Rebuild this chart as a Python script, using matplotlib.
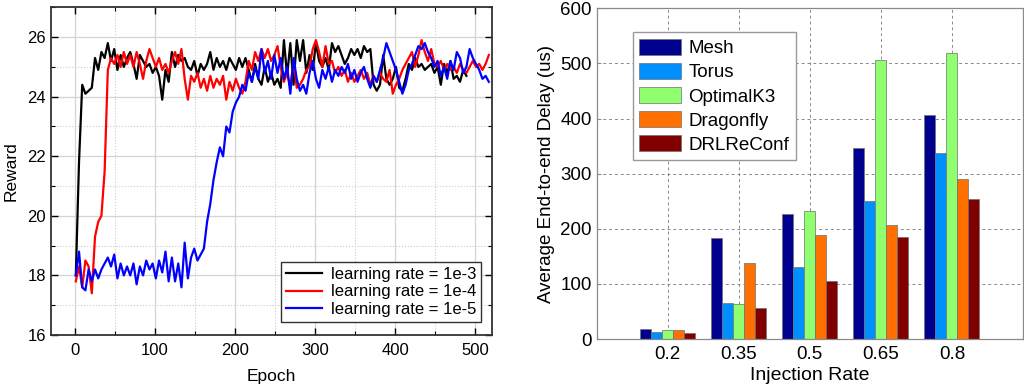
import numpy as np
import matplotlib
matplotlib.use('Agg')
import matplotlib.pyplot as plt
from matplotlib.ticker import MultipleLocator

plt.rcParams['font.family'] = ['Liberation Sans', 'DejaVu Sans']

# ---- left panel: reward vs epoch (sampled every 4 epochs) ----
epochs = np.arange(1, 521, 4)

reward_1e3 = [18.0, 21.8, 24.4, 24.1, 24.2, 24.3, 25.3, 24.9, 25.5, 25.3,
              25.8, 25.2, 25.6, 24.9, 25.4, 25.0, 25.3, 25.5, 25.1, 24.6,
              25.4, 25.2, 25.0, 25.1, 24.8, 25.0, 24.7, 23.9, 24.9, 24.5,
              25.5, 25.0, 25.4, 25.2, 25.3, 25.0, 24.9, 25.2, 24.7, 25.1,
              24.9, 25.1, 25.5, 24.9, 25.3, 25.0, 25.2, 24.9, 25.3, 25.1,
              24.9, 25.3, 25.0, 25.3, 24.9, 24.5, 25.1, 24.6, 24.4, 25.0,
              24.5, 24.8, 24.4, 24.6, 24.3, 25.9, 24.7, 25.8, 24.4, 25.9,
              25.2, 25.9, 24.8, 25.4, 24.9, 25.8, 25.2, 25.0, 25.3, 24.9,
              25.8, 25.5, 25.7, 25.4, 25.1, 25.3, 25.6, 25.4, 25.6, 25.3,
              25.7, 25.5, 25.6, 24.4, 24.2, 24.4, 25.4, 24.6, 24.4, 24.6,
              25.0, 24.3, 24.2, 24.6, 25.1, 24.9, 25.3, 25.0, 25.1, 24.9,
              25.0, 25.1, 24.8, 25.0, 24.4, 25.1, 24.8, 25.2, 24.6, 24.7,
              24.5, 24.9, 24.7]

reward_1e4 = [17.8, 18.3, 17.6, 18.5, 18.3, 17.4, 19.3, 19.8, 20.0, 21.5,
              24.9, 25.3, 25.1, 25.4, 25.0, 25.5, 25.1, 25.4, 25.0, 25.5,
              25.1, 24.6, 25.2, 25.6, 25.3, 25.0, 25.3, 24.9, 25.1, 24.8,
              25.2, 25.5, 25.1, 25.6, 24.6, 23.9, 24.7, 24.5, 24.8, 24.3,
              24.6, 24.2, 24.7, 24.3, 24.6, 24.4, 24.7, 23.9, 24.5, 24.2,
              24.6, 24.3, 24.1, 24.5, 25.2, 24.9, 25.5, 25.2, 25.6, 25.3,
              25.6, 25.2, 25.4, 25.7, 25.0, 24.5, 24.8, 24.3, 25.2, 24.3,
              24.4, 24.6, 24.9, 25.0, 25.6, 25.9, 25.5, 25.0, 25.7, 25.1,
              25.2, 24.8, 25.0, 24.7, 24.9, 24.5, 24.8, 24.5, 24.7, 24.9,
              24.6, 24.8, 24.4, 24.7, 24.5, 24.8, 24.6, 24.5, 24.9, 24.1,
              24.4, 24.6, 24.9, 25.1, 25.3, 25.5, 25.0, 25.4, 25.9, 25.5,
              25.2, 25.6, 25.1, 25.0, 25.2, 24.9, 25.1, 24.9, 25.0, 24.8,
              25.1, 24.9, 24.8, 25.0, 25.2, 25.0, 25.1, 24.9, 25.1, 25.4]

reward_1e5 = [18.0, 18.8, 17.6, 17.5, 18.2, 17.8, 18.2, 17.9, 18.2, 18.4,
              18.6, 18.3, 18.7, 17.9, 18.4, 18.0, 18.3, 18.0, 18.4, 17.7,
              18.3, 18.0, 18.5, 18.2, 18.4, 17.9, 18.5, 18.1, 18.8, 17.8,
              18.6, 17.8, 18.4, 17.6, 19.1, 17.9, 18.6, 18.9, 18.5, 18.7,
              18.9, 19.8, 20.4, 21.2, 21.8, 22.3, 22.0, 23.0, 22.8, 23.5,
              23.8, 24.0, 24.4, 24.2, 24.8, 24.5, 25.0, 24.6, 25.6, 24.8,
              25.2, 24.6, 25.4, 24.8, 25.3, 24.6, 25.0, 24.1, 25.3, 24.6,
              24.2, 24.4, 24.1, 24.8, 25.2, 24.6, 24.3, 24.9, 24.6, 25.0,
              24.5, 24.9, 24.7, 25.0, 24.8, 25.1, 24.6, 24.9, 24.5, 24.8,
              25.0, 24.6, 24.3, 24.7, 24.5, 24.9, 25.3, 25.8, 25.5, 25.2,
              24.9, 24.5, 24.1, 24.4, 24.9, 25.1, 25.4, 25.7, 25.6, 25.8,
              25.5, 25.3, 25.0, 25.2, 24.7, 25.0, 24.6, 25.2, 24.9, 25.5,
              25.3, 24.8, 25.0, 25.6, 25.3, 25.1, 24.9, 24.6, 24.7, 24.5]

lr_labels = ['learning rate = 1e-3', 'learning rate = 1e-4', 'learning rate = 1e-5']

# ---- right panel: delay vs injection rate ----
rates = ['0.2', '0.35', '0.5', '0.65', '0.8']
topologies = ['Mesh', 'Torus', 'OptimalK3', 'Dragonfly', 'DRLReConf']
mesh = [17.5, 182.7, 226.9, 346.0, 406.5]
torus = [12.7, 64.7, 130.7, 249.8, 338.2]
optimalk3 = [15.7, 63.5, 232.9, 505.7, 519.7]
dragonfly = [15.7, 138.0, 188.0, 206.9, 291.0]
drlreconf = [11.5, 55.7, 104.7, 184.5, 254.0]
bar_colors = ['#00008F', '#008FFF', '#8FFF70', '#FF7000', '#800000']

fig = plt.figure(figsize=(10.24, 3.87), dpi=100)

# left
ax1 = fig.add_axes([0.0498, 0.1344, 0.4307, 0.8466])
line_colors = ['black', 'red', 'blue']
for ys, c, lab in zip([reward_1e3, reward_1e4, reward_1e5], line_colors, lr_labels):
    ax1.plot(epochs[:len(ys)], ys, color=c, lw=1.6, label=lab)
ax1.set_xlim(-30, 521)
ax1.set_ylim(16, 27)
ax1.xaxis.set_major_locator(MultipleLocator(100))
ax1.xaxis.set_minor_locator(MultipleLocator(50))
ax1.yaxis.set_major_locator(MultipleLocator(2))
ax1.yaxis.set_minor_locator(MultipleLocator(1))
ax1.grid(which='major', color='#d4d4d4', lw=0.9, ls='-')
ax1.grid(which='minor', color='#cccccc', lw=0.8, ls=':')
ax1.set_axisbelow(True)
ax1.tick_params(which='both', direction='in', top=True, right=True, labelsize=12)
ax1.tick_params(axis='x', pad=6)
ax1.tick_params(which='major', length=5, width=1.0)
ax1.tick_params(which='minor', length=3, width=0.8)
for s in ax1.spines.values():
    s.set_linewidth(1.3)
    s.set_color('#333333')
ax1.set_xlabel('Epoch', fontsize=12.5, labelpad=8)
ax1.set_ylabel('Reward', fontsize=12.5, labelpad=6)
leg1 = ax1.legend(loc='lower right', bbox_to_anchor=(0.975, 0.04), fontsize=12,
                  handlelength=2.2, labelspacing=0.15, borderaxespad=0,
                  fancybox=False, framealpha=1, borderpad=0.3, handletextpad=0.5)
leg1.get_frame().set_edgecolor('#333333')
leg1.get_frame().set_linewidth(1.0)

# right
ax2 = fig.add_axes([0.5827, 0.124, 0.4163, 0.8546])
x = np.arange(len(rates))
w = 0.155
for i, (vals, c, lab) in enumerate(zip([mesh, torus, optimalk3, dragonfly, drlreconf],
                                        bar_colors, topologies)):
    ax2.bar(x + (i - 2) * w, vals, width=w, color=c, edgecolor='#707070',
            linewidth=0.5, label=lab, zorder=2)
ax2.set_xlim(-1, 5)
ax2.set_ylim(0, 600)
ax2.set_xticks(x)
ax2.set_xticklabels(rates)
ax2.yaxis.set_major_locator(MultipleLocator(100))
ax2.grid(color='#888888', lw=0.7, ls=(0, (3, 3)))
ax2.set_axisbelow(True)
ax2.tick_params(direction='in', length=3, labelsize=13.5, color='#888888')
ax2.tick_params(axis='x', pad=5)
for s in ax2.spines.values():
    s.set_linewidth(0.9)
    s.set_color('#8a8a8a')
ax2.set_xlabel('Injection Rate', fontsize=14, labelpad=3)
ax2.set_ylabel('Average End-to-end Delay (us)', fontsize=13.5, labelpad=4)
leg2 = ax2.legend(loc='upper left', bbox_to_anchor=(0.085, 0.928), fontsize=13.5,
                  handlelength=2.2, handleheight=0.95, labelspacing=0.3,
                  borderaxespad=0, fancybox=False, framealpha=1, borderpad=0.35,
                  handletextpad=0.4)
leg2.get_frame().set_edgecolor('#999999')
leg2.get_frame().set_linewidth(1.0)

fig.savefig('out.png', dpi=100)
